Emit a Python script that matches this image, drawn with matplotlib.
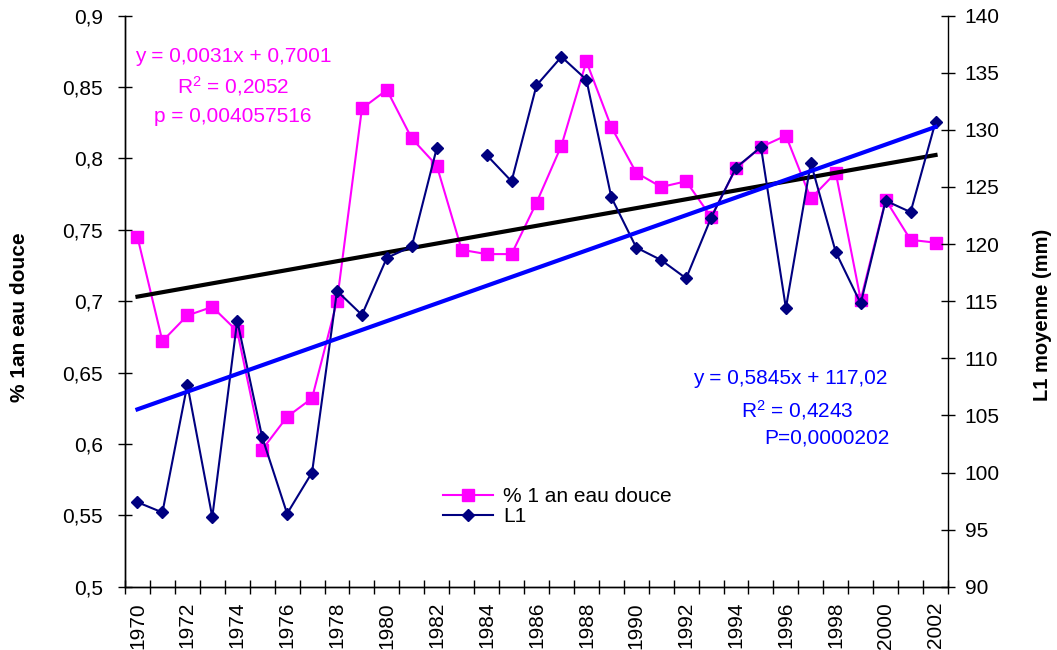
# -*- coding: utf-8 -*-
import numpy as np
import matplotlib
matplotlib.use("Agg")
import matplotlib.pyplot as plt
from matplotlib.ticker import FuncFormatter, FixedLocator

plt.rcParams['font.family'] = ['Liberation Sans', 'DejaVu Sans']
plt.rcParams['mathtext.fontset'] = 'custom'
plt.rcParams['mathtext.rm'] = 'Liberation Sans'
plt.rcParams['mathtext.it'] = 'Liberation Sans:italic'

# donnees
annees = list(range(1970, 2003))
eau_douce = [0.745, 0.672, 0.690, 0.696, 0.679, 0.596, 0.619, 0.632, 0.700, 0.835,
             0.848, 0.814, 0.795, 0.736, 0.733, 0.733, 0.769, 0.809, 0.868, 0.822,
             0.790, 0.780, 0.784, 0.759, 0.793, 0.808, 0.816, 0.772, 0.790, 0.701,
             0.771, 0.743, 0.741]
L1 = [97.4, 96.5, 107.7, 96.1, 113.3, 103.1, 96.4, 100.0, 115.9, 113.8,
      118.8, 119.8, 128.4, np.nan, 127.8, 125.5, 133.9, 136.4, 134.4, 124.1,
      119.7, 118.6, 117.0, 122.3, 126.7, 128.5, 114.4, 127.1, 119.3, 114.8,
      123.8, 122.8, 130.7]

# equation affichee pour la tendance rose (x = 1..33)
pente_rose, origine_rose = 0.0031, 0.7001

texte_rose = ["y = 0,0031x + 0,7001", "R$^{2}$ = 0,2052", "p = 0,004057516"]
texte_bleu = ["y = 0,5845x + 117,02", "R$^{2}$ = 0,4243", "P=0,0000202"]

ROSE = '#FF00FF'
MARINE = '#000080'
BLEU = '#0000FF'
FS = 15

x = np.arange(len(annees))
y1 = np.array(eau_douce)
y2 = np.array(L1)

# droites de tendance
tend1 = pente_rose * (x + 1) + origine_rose
ok = ~np.isnan(y2)
p2 = np.polyfit(x[ok], y2[ok], 1)

fig = plt.figure(figsize=(10.57, 6.5), dpi=100)
ax = fig.add_axes([125/1057, 1-586.7/650, (948-125)/1057, (586.7-15.7)/650])
ax2 = ax.twinx()

l_rose, = ax.plot(x, y1, color=ROSE, lw=1.5, marker='s', ms=8.5,
                  mec=ROSE, mfc=ROSE, label='% 1 an eau douce', zorder=3)
ax.plot(x, tend1, color='black', lw=3, zorder=4)

l_marine, = ax2.plot(x, y2, color=MARINE, lw=1.5, marker='D', ms=6.5,
                     mec=MARINE, mfc=MARINE, label='L1', zorder=3)
ax2.plot(x, np.polyval(p2, x), color=BLEU, lw=3, zorder=4)

ax.set_xlim(-0.5, len(annees) - 0.5)
ax.set_ylim(0.5, 0.9)
ax2.set_ylim(90, 140)
ax.set_yticks(np.arange(0.5, 0.901, 0.05))
ax2.set_yticks(np.arange(90, 141, 5))
ax.yaxis.set_major_formatter(FuncFormatter(lambda v, p: ('%g' % round(v, 3)).replace('.', ',')))

# axe des categories : traits entre les annees, etiquettes une annee sur deux
ax.xaxis.set_major_locator(FixedLocator(x[::2]))
ax.set_xticklabels([str(a) for a in annees[::2]], rotation=90)
ax.xaxis.set_minor_locator(FixedLocator(np.arange(-0.5, len(annees), 1.0)))
ax.tick_params(axis='x', which='major', length=0, pad=11, labelsize=FS)
ax.tick_params(axis='x', which='minor', direction='inout', length=10, width=1)
ax.tick_params(axis='y', direction='inout', length=10, width=1, labelsize=FS, pad=11)
ax2.tick_params(axis='y', direction='inout', length=10, width=1, labelsize=FS, pad=7)

for a in (ax, ax2):
    a.spines['top'].set_visible(False)
    for s in a.spines.values():
        s.set_linewidth(1)
ax.spines['right'].set_visible(False)

fig.text(20/1057, 1-317/650, '% 1an eau douce', rotation=90, fontsize=FS,
         fontweight='bold', ha='center', va='center')
fig.text(1042/1057, 1-315/650, 'L1 moyenne (mm)', rotation=90, fontsize=14.5,
         fontweight='bold', ha='center', va='center')

for i, t in enumerate(texte_rose):
    fig.text(233/1057, 1-(57 + 29.5*i)/650, t, color=ROSE, fontsize=FS,
             ha='center', va='center')
fig.text(790/1057, 1-379/650, texte_bleu[0], color=BLEU, fontsize=FS, ha='center', va='center')
fig.text(797/1057, 1-410/650, texte_bleu[1], color=BLEU, fontsize=FS, ha='center', va='center')
fig.text(889/1057, 1-438/650, texte_bleu[2], color=BLEU, fontsize=FS, ha='right', va='center')

ax2.legend([l_rose, l_marine], ['% 1 an eau douce', 'L1'], loc='upper left',
           bbox_to_anchor=(443/1057, 1-487/650), bbox_transform=fig.transFigure,
           frameon=False, fontsize=FS, handlelength=2.4, handletextpad=0.5,
           labelspacing=0.05, borderpad=0, borderaxespad=0, numpoints=1)

fig.savefig('out.png', dpi=100)
